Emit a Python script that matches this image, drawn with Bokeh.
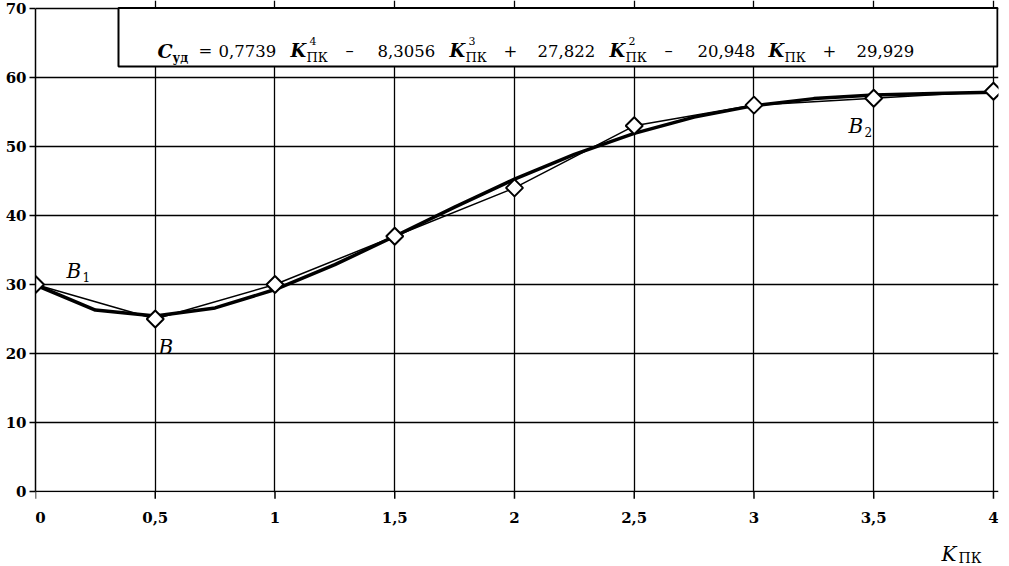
import numpy as np
from bokeh.plotting import figure
from bokeh.models import FixedTicker, Label, Range1d
from bokeh.core.properties import value
from bokeh.embed import file_html
from bokeh.resources import INLINE

# ---- data -------------------------------------------------------------
k_pk = [0, 0.5, 1, 1.5, 2, 2.5, 3, 3.5, 4]
c_ud = [30, 25, 30, 37, 44, 53, 56, 57, 58]

# polynomial trend line
trend_x = [0, 0.25, 0.5, 0.75, 1, 1.25, 1.5, 1.75, 2, 2.25, 2.5, 2.75, 3, 3.25, 3.5, 3.75, 4]
trend_y = [29.93, 26.30, 25.42, 26.61, 29.27, 32.88, 36.99, 41.22, 45.26,
           48.87, 51.90, 54.26, 55.92, 56.94, 57.46, 57.67, 57.85]

x_ticks = [0, 0.5, 1, 1.5, 2, 2.5, 3, 3.5, 4]
x_tick_labels = ["0", "0,5", "1", "1,5", "2", "2,5", "3", "3,5", "4"]
y_ticks = [0, 10, 20, 30, 40, 50, 60, 70]

SERIF = "DejaVu Serif"

# helpers: place texts by picture position
def X(px):
    return (px - 35) / 239.5

def Y(py):
    return (491 - py) / 6.9

Y_BOTTOM = -75 / 6.9   # frame reaches the bottom of the canvas

p = figure(width=1009, height=566,
           x_range=Range1d(0, 4.021), y_range=Range1d(Y_BOTTOM, 71.16),
           x_axis_location=None,
           output_backend="svg", toolbar_location=None,
           min_border_left=35, min_border_right=11,
           min_border_top=0, min_border_bottom=0)
p.outline_line_color = None
p.background_fill_color = "white"
p.border_fill_color = "white"

# y axis
yax = p.yaxis[0]
yax.ticker = FixedTicker(ticks=y_ticks)
yax.bounds = (0, 70)
yax.axis_line_color = "black"
yax.axis_line_width = 1.5
yax.major_tick_line_color = "black"
yax.major_tick_line_width = 1.5
yax.major_tick_in = 0
yax.major_tick_out = 6
yax.minor_tick_in = 0
yax.minor_tick_out = 0
yax.major_label_standoff = 3
yax.major_label_text_font = SERIF
yax.major_label_text_font_style = "bold"
yax.major_label_text_font_size = "15px"
yax.major_label_text_color = "black"

# grid
p.xgrid.ticker = FixedTicker(ticks=x_ticks)
p.ygrid.ticker = FixedTicker(ticks=y_ticks)
for g in (p.xgrid[0], p.ygrid[0]):
    g.grid_line_color = "black"
    g.grid_line_width = 1.3
    g.grid_line_alpha = 1.0

# blank the area under the x axis (grid lines stop at 0)
p.quad(left=[0], right=[4.021], bottom=[Y_BOTTOM], top=[-0.12],
       fill_color="white", line_color=None)

# x axis: tick marks and tick labels
p.segment(x0=x_ticks, y0=[0] * len(x_ticks), x1=x_ticks, y1=[-1.05] * len(x_ticks),
          line_color="black", line_width=1.5)
p.text(x=x_ticks, y=[Y(511)] * len(x_ticks), text=x_tick_labels,
       x_offset=[5] + [0] * (len(x_ticks) - 1),
       text_align="center", text_baseline="top",
       text_font=value(SERIF), text_font_style="bold",
       text_font_size="15px", text_color="black")

# series
p.line(k_pk, c_ud, line_color="black", line_width=1.5)
p.line(trend_x, trend_y, line_color="black", line_width=3.5)
p.scatter(k_pk, c_ud, marker="square", angle=np.pi / 4, size=12,
          fill_color="white", line_color="black", line_width=2)

# equation box
p.quad(left=[X(118)], right=[X(997)], bottom=[Y(66)], top=[Y(7.5)],
       fill_color="white", line_color="black", line_width=2)

def lab(px, py, text, size, style="normal"):
    p.add_layout(Label(x=X(px), y=Y(py), text=text, text_font=SERIF,
                       text_font_size=size, text_font_style=style,
                       text_color="black", text_align="left",
                       text_baseline="alphabetic"))

base = 50
sub = 57
sup = 40
NUM = "16.5px"
lab(157, base, "C", "19px", "bold italic")
lab(172, sub, "уд", "12px", "bold")
lab(198, base, "=", NUM)
lab(218, base, "0,7739", NUM)
k_blocks = [(290, "4"), (449, "3"), (609, "2"), (768, None)]
for kx, pw in k_blocks:
    lab(kx, base, "K", "18px", "bold italic")
    lab(kx + 16, sub, "ПК", "13px")
    if pw:
        lab(kx + 19, sup, pw, "11px")
lab(345, base, "–", NUM)
lab(377, base, "8,3056", NUM)
lab(503, base, "+", NUM)
lab(537, base, "27,822", NUM)
lab(664, base, "–", NUM)
lab(697, base, "20,948", NUM)
lab(822, base, "+", NUM)
lab(856, base, "29,929", NUM)

# point labels
lab(66, 270, "B", "20px", "italic")
lab(82, 276, "1", "12px")
lab(158, 346, "B", "20px", "italic")
lab(848, 125, "B", "20px", "italic")
lab(864, 131, "2", "12px")

# axis title
lab(941, 553, "K", "20px", "italic")
lab(958, 557, "ПК", "14px")

open("out.html", "w").write(file_html(p, INLINE))
